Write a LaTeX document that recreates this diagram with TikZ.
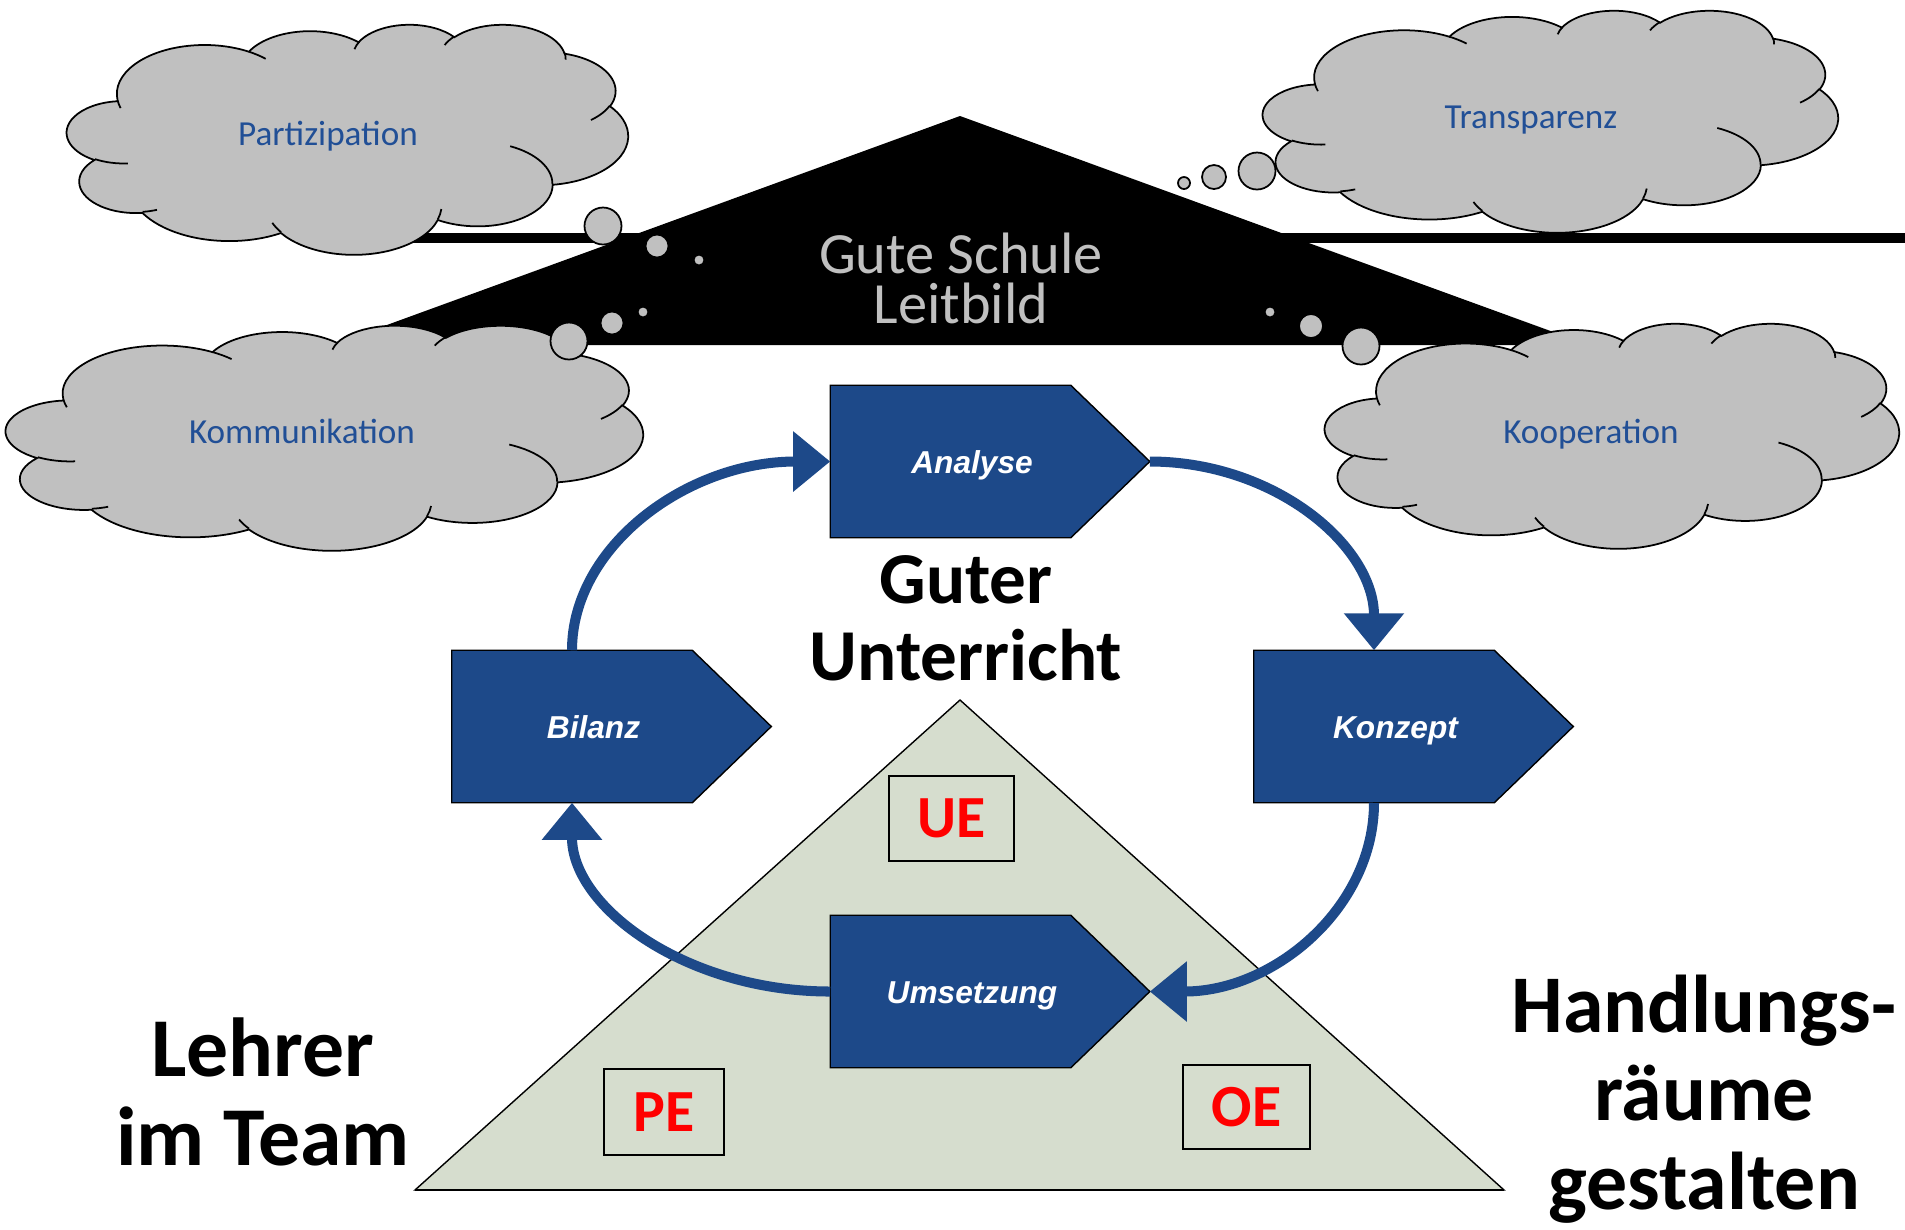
\documentclass[tikz,border=0pt]{standalone}
\usepackage{fontspec}
\setmainfont{Carlito}
\newfontfamily\arialfont{Liberation Sans}
\usetikzlibrary{arrows.meta,positioning}

\definecolor{phaseblue}{RGB}{29,73,137}
\definecolor{cloudgray}{RGB}{192,192,192}
\definecolor{cloudblue}{RGB}{33,79,150}
\definecolor{sage}{RGB}{214,221,206}

\tikzstyle{phase} = [rectangle, minimum width=2.39cm, minimum height=1.51cm, inner sep=0pt]
\tikzstyle{phasefill} = [fill=phaseblue, draw=black, line width=0.4pt]
\tikzstyle{phasetext} = [text=white, anchor=base, font=\arialfont\bfseries\itshape\fontsize{9}{11}\selectfont]
\tikzstyle{cloudline} = [fill=cloudgray, draw=black, line width=0.5pt]
\tikzstyle{curl} = [draw=black, line width=0.5pt]
\tikzstyle{cloudtext} = [text=cloudblue, anchor=base, font=\fontsize{10}{12}\selectfont]
\tikzstyle{bubble} = [fill=cloudgray, draw=black, line width=0.5pt]
\tikzstyle{rooftext} = [align=center, text=cloudgray, font=\fontsize{16.6}{14.2}\selectfont]
\tikzstyle{field} = [rectangle, draw=black, line width=0.6pt, inner sep=0pt, text=red, font=\bfseries\fontsize{17}{20}\selectfont]
\tikzstyle{midtext} = [align=center, font=\bfseries\fontsize{20.8}{21.8}\selectfont]
\tikzstyle{bigtext} = [align=center, font=\bfseries\fontsize{23.8}{25.4}\selectfont]
\tikzstyle{sidetext} = [align=center, font=\bfseries\fontsize{23.3}{25.2}\selectfont]
\tikzstyle{line} = [draw=phaseblue, line width=2.85pt, -{Triangle[length=0.37cm,width=0.58cm]}]

\newcommand{\arcto}[4]{arc[start angle={atan2((#1)*sin(#3),(#2)*cos(#3))}, delta angle={mod(atan2((#1)*sin((#3)+(#4)),(#2)*cos((#3)+(#4)))-atan2((#1)*sin(#3),(#2)*cos(#3))+720,360)}, x radius=#1, y radius=#2]}
\newcommand{\cloudoutline}{(39.00,143.70)
  \arcto{67.53}{91.90}{-190.4875}{123.7805}
  \arcto{53.33}{72.67}{-144.1024}{89.9452}
  \arcto{43.65}{59.45}{-145.8079}{99.7230}
  \arcto{48.57}{65.95}{-130.9861}{117.2417}
  \arcto{53.33}{72.73}{-78.7089}{109.0269}
  \arcto{67.75}{92.20}{-46.2673}{130.2690}
  \arcto{57.85}{78.67}{0.6250}{114.0333}
  \arcto{67.52}{92.15}{22.4516}{115.1726}
  \arcto{77.20}{105.43}{66.2426}{75.7110}
  \arcto{43.60}{59.18}{-274.9421}{146.7356}
  \arcto{43.45}{59.45}{-246.8285}{152.5189} -- cycle}
\newcommand{\cloudcurls}{(46.93,261.77) \arcto{43.45}{59.45}{86.7420}{26.4295}
  (69.28,348.99) \arcto{43.60}{59.18}{73.6105}{11.4475}
  (164.78,390.90) \arcto{67.52}{92.15}{137.6242}{14.0811}
  (288.27,347.51) \arcto{67.52}{92.15}{6.4533}{15.9984}
  (341.29,229.54) \arcto{57.85}{78.67}{-70.2924}{70.9174}
  (417.98,153.54) \arcto{53.33}{72.73}{30.3180}{27.7515}
  (383.24,54.26) \arcto{48.57}{65.95}{-13.7443}{14.8589}
  (290.78,39.52) \arcto{48.57}{65.95}{-149.1815}{18.1954}
  (221.41,47.20) \arcto{43.65}{59.45}{-163.4943}{17.6864}
  (140.00,51.92) \arcto{67.53}{91.90}{-66.7070}{12.3194}
  (41.27,157.89) \arcto{67.53}{91.90}{157.6544}{11.8582}}

\begin{document}
\begin{tikzpicture}[x=0.01cm, y=-0.01cm]
    \useasboundingbox (0,0) rectangle (1905,1229);
    \draw[line width=3.1pt] (380,238) -- (1905,238);
    \fill (960,116) -- (332,345) -- (1589,345) -- cycle;
    \node[rooftext] (leitbild) at (961,278) {Gute Schule\\Leitbild};

    \begin{scope}[shift={(67,24)}, xscale=1.2986, yscale=0.5324]
        \filldraw[cloudline] \cloudoutline;
        \draw[curl] \cloudcurls;
    \end{scope}
    \begin{scope}[shift={(6,325)}, xscale=1.4745, yscale=0.5208]
        \filldraw[cloudline] \cloudoutline;
        \draw[curl] \cloudcurls;
    \end{scope}
    \begin{scope}[shift={(1263,10)}, xscale=1.3310, yscale=0.5139]
        \filldraw[cloudline] \cloudoutline;
        \draw[curl] \cloudcurls;
    \end{scope}
    \begin{scope}[shift={(1325,323)}, xscale=1.3287, yscale=0.5208]
        \filldraw[cloudline] \cloudoutline;
        \draw[curl] \cloudcurls;
    \end{scope}
    \filldraw[bubble] (603,226) circle[radius=18.5];
    \filldraw[bubble] (657,246) circle[radius=11.5];
    \filldraw[bubble] (699,260) circle[radius=5.5];
    \filldraw[bubble] (569,341) circle[radius=18.5];
    \filldraw[bubble] (612,323) circle[radius=11.5];
    \filldraw[bubble] (643,312) circle[radius=5.5];
    \filldraw[bubble] (1257,171) circle[radius=18.5];
    \filldraw[bubble] (1214,177) circle[radius=12];
    \filldraw[bubble] (1184,183) circle[radius=6];
    \filldraw[bubble] (1361,346) circle[radius=18.5];
    \filldraw[bubble] (1311,326) circle[radius=12];
    \filldraw[bubble] (1270,312) circle[radius=5.5];
    \node[cloudtext] (partizipation) at (328,145) {Partizipation};
    \node[cloudtext] (kommunikation) at (302,443) {Kommunikation};
    \node[cloudtext] (transparenz) at (1531,128) {Transparenz};
    \node[cloudtext] (kooperation) at (1591,443) {Kooperation};

    \filldraw[fill=sage, draw=black, line width=0.4pt] (960,700) -- (1504,1190) -- (415,1190) -- cycle;
    \draw[line width=0.8pt] (415,1190) -- (1504,1190);
    \node[field, minimum width=1.25cm, minimum height=0.85cm] (ue) at (951.5,818.5) {UE};
    \node[field, minimum width=1.2cm, minimum height=0.86cm] (pe) at (664,1112) {PE};
    \node[field, minimum width=1.27cm, minimum height=0.84cm] (oe) at (1246.5,1107) {OE};

    \node[midtext] (guter) at (966,618) {Guter\\Unterricht};
    \node[bigtext] (lehrer) at (263,1092) {Lehrer\\im Team};
    \node[sidetext] (raeume) at (1704,1099) {Handlungs-\\räume\\gestalten};

    \node[phase] (ana) at (950.5,461.5) {};
    \coordinate[right=0.79cm of ana.east] (anatip);
    \filldraw[phasefill] (ana.north west) -- (ana.north east) -- (anatip) -- (ana.south east) -- (ana.south west) -- cycle;
    \node[phasetext] (anatext) at ([xshift=0.215cm, yshift=-0.115cm]ana.center) {Analyse};
    \node[phase] (bil) at (572,726.5) {};
    \coordinate[right=0.79cm of bil.east] (biltip);
    \filldraw[phasefill] (bil.north west) -- (bil.north east) -- (biltip) -- (bil.south east) -- (bil.south west) -- cycle;
    \node[phasetext] (biltext) at ([xshift=0.215cm, yshift=-0.115cm]bil.center) {Bilanz};
    \node[phase] (kon) at (1374,726.5) {};
    \coordinate[right=0.79cm of kon.east] (kontip);
    \filldraw[phasefill] (kon.north west) -- (kon.north east) -- (kontip) -- (kon.south east) -- (kon.south west) -- cycle;
    \node[phasetext] (kontext) at ([xshift=0.215cm, yshift=-0.115cm]kon.center) {Konzept};
    \node[phase] (ums) at (950.5,991.5) {};
    \coordinate[right=0.79cm of ums.east] (umstip);
    \filldraw[phasefill] (ums.north west) -- (ums.north east) -- (umstip) -- (ums.south east) -- (ums.south west) -- cycle;
    \node[phasetext] (umstext) at ([xshift=0.215cm, yshift=-0.115cm]ums.center) {Umsetzung};

    \path[line] (bil.north) .. controls +(0,-104) and +(-143,0) .. (ana.west);
    \path[line] (anatip) .. controls +(124,0) and +(0,-105) .. (kon.north);
    \path[line] (kon.south) .. controls +(0,105) and +(124,0) .. (umstip);
    \path[line] (ums.west) .. controls +(-143,0) and +(0,105) .. (bil.south);
\end{tikzpicture}
\end{document}
